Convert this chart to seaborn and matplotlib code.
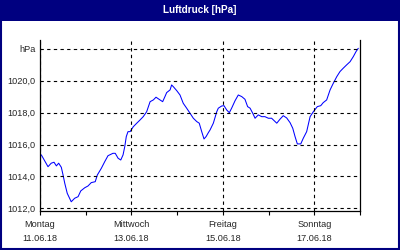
import matplotlib
matplotlib.use("Agg")
import matplotlib.pyplot as plt
import matplotlib.patches as mpatches
from matplotlib.ticker import FixedLocator
import seaborn as sns
import pandas as pd

# hours since Monday 11.06.18 00:00
hours = [0, 0.7, 4.2, 5.9, 7.35, 8.6, 9.8, 11.2, 12.1, 13.0, 14.3, 16.4, 18.2, 20.0,
         21.4, 23.5, 25.2, 26.9, 29.0, 30.1, 32.2, 34.0, 35.7, 38.3, 39.5, 41.0,
         42.4, 43.6, 44.5, 45.3, 46.2, 47.3, 49.0, 50.8, 52.5, 54.2, 56.0, 57.8,
         59.5, 60.9, 63.0, 64.4, 65.6, 66.5, 68.3, 69.1, 70.0, 71.8, 73.5, 75.2,
         77.0, 78.8, 80.5, 82.3, 83.6, 84.9, 86.1, 87.2, 88.4, 89.3, 91.0, 92.8,
         93.6, 95.4, 96.6, 98.0, 99.4, 100.6, 102.4, 104.1, 105.9, 107.6, 109.0,
         110.3, 111.7, 112.9, 114.6, 116.4, 118.1, 119.9, 121.6, 124.3, 126.0,
         127.7, 129.5, 131.3, 132.7, 133.9, 135.1, 136.9, 138.2, 140.0, 141.8,
         143.5, 145.6, 147.4, 148.7, 150.5, 152.3, 154.0, 155.8, 157.5, 159.2,
         161.0, 162.8, 164.5, 165.9, 167.1]
pressure = [1015.35, 1015.35, 1014.61, 1014.83, 1014.89, 1014.66, 1014.83, 1014.57,
            1014.09, 1013.57, 1012.94, 1012.41, 1012.63, 1012.73, 1013.09, 1013.29,
            1013.40, 1013.61, 1013.67, 1014.09, 1014.51, 1014.93, 1015.30, 1015.45,
            1015.45, 1015.14, 1015.03, 1015.35, 1015.87, 1016.50, 1016.81, 1016.81,
            1017.12, 1017.34, 1017.54, 1017.75, 1018.06, 1018.69, 1018.80, 1018.97,
            1018.80, 1018.69, 1019.01, 1019.26, 1019.43, 1019.74, 1019.63, 1019.38,
            1019.11, 1018.59, 1018.28, 1017.96, 1017.65, 1017.44, 1017.34, 1016.81,
            1016.35, 1016.50, 1016.75, 1016.92, 1017.34, 1018.06, 1018.28, 1018.42,
            1018.44, 1018.17, 1018.00, 1018.28, 1018.75, 1019.11, 1019.01, 1018.84,
            1018.38, 1018.28, 1017.96, 1017.65, 1017.86, 1017.75, 1017.75, 1017.65,
            1017.65, 1017.34, 1017.59, 1017.81, 1017.67, 1017.37, 1017.02, 1016.50,
            1016.04, 1016.04, 1016.39, 1016.81, 1017.75, 1018.06, 1018.38, 1018.44,
            1018.63, 1018.80, 1019.43, 1019.85, 1020.26, 1020.58, 1020.79, 1021.00,
            1021.20, 1021.52, 1021.83, 1022.04]

day_names = ["Montag", "Mittwoch", "Freitag", "Sonntag"]
day_dates = ["11.06.18", "13.06.18", "15.06.18", "17.06.18"]
major_hours = [0, 48, 96, 144]
minor_hours = [24, 72, 120, 168]
y_ticks = [1012, 1014, 1016, 1018, 1020, 1022]
y_labels = ["1012,0", "1014,0", "1016,0", "1018,0", "1020,0", "hPa"]
title = "Luftdruck [hPa]"

sns.set_style("white")
plt.rcParams["font.family"] = ["Liberation Sans", "DejaVu Sans"]

df = pd.DataFrame({"h": hours, "p": pressure})

fig = plt.figure(figsize=(4, 2.5), dpi=100)
fig.patch.set_facecolor("white")
ax = fig.add_axes([0.1, 0.156, 0.8, 0.684])

sns.lineplot(data=df, x="h", y="p", ax=ax, color="#0000FF", linewidth=0.75)

ax.set_xlim(0, 168)
ax.set_ylim(1011.83, 1022.56)
ax.xaxis.set_major_locator(FixedLocator(major_hours))
ax.xaxis.set_minor_locator(FixedLocator(minor_hours))
ax.set_xticklabels([f"{n}\n{d}" for n, d in zip(day_names, day_dates)],
                   linespacing=1.75)
ax.set_yticks(y_ticks)
ax.set_yticklabels(y_labels)
ax.set_xlabel("")
ax.set_ylabel("")

ax.tick_params(axis="x", which="major", length=3, width=0.8, color="black",
               labelsize=6.6, pad=3.5, bottom=True, direction="out")
ax.tick_params(axis="x", which="minor", length=3, width=0.8, color="black",
               bottom=True, direction="out")
ax.tick_params(axis="y", length=0, labelsize=6.6, pad=3)

ax.grid(True, which="major", axis="both", color="black",
        linestyle=(0, (3, 3)), linewidth=0.8)
ax.set_axisbelow(False)
for s in ["left", "bottom", "right"]:
    ax.spines[s].set_visible(True)
    ax.spines[s].set_color("black")
    ax.spines[s].set_linewidth(0.9)
ax.spines["top"].set_visible(False)

# title band and frame
fig.patches.append(mpatches.Rectangle((0, 1 - 21 / 250), 1, 21 / 250,
                                      transform=fig.transFigure,
                                      facecolor="#000080", edgecolor="none",
                                      zorder=0))
fig.patches.append(mpatches.Rectangle((0.0025, 0.004), 0.995, 0.992,
                                      transform=fig.transFigure,
                                      facecolor="none", edgecolor="#000080",
                                      linewidth=1.5, zorder=1))
fig.text(0.5, 1 - 10 / 250, title, color="white", fontsize=7.2,
         fontweight="bold", ha="center", va="center")

fig.savefig("out.png", dpi=100)
